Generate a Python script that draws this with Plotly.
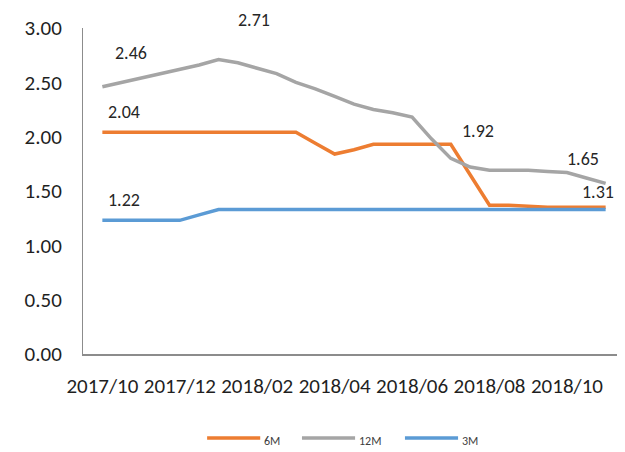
import plotly.graph_objects as go

# semi-monthly observation dates
dates = ["2017/10/01", "2017/10/16", "2017/11/01", "2017/11/16", "2017/12/01", "2017/12/16",
         "2018/01/01", "2018/01/16", "2018/02/01", "2018/02/16", "2018/03/01", "2018/03/16",
         "2018/04/01", "2018/04/16", "2018/05/01", "2018/05/16", "2018/06/01", "2018/06/16",
         "2018/07/01", "2018/07/16", "2018/08/01", "2018/08/16", "2018/09/01", "2018/09/16",
         "2018/10/01", "2018/10/16", "2018/11/01"]

rate_6m = [2.04, 2.04, 2.04, 2.04, 2.04, 2.04, 2.04, 2.04, 2.04, 2.04, 2.04, 1.94, 1.84, 1.88,
           1.93, 1.93, 1.93, 1.93, 1.93, 1.65, 1.37, 1.37, 1.36, 1.35, 1.35, 1.35, 1.35]
rate_12m = [2.46, 2.50, 2.54, 2.58, 2.62, 2.66, 2.71, 2.68, 2.63, 2.58, 2.50, 2.44, 2.37, 2.30,
            2.25, 2.22, 2.18, 1.98, 1.80, 1.72, 1.69, 1.69, 1.69, 1.68, 1.67, 1.62, 1.57]
rate_3m = [1.23, 1.23, 1.23, 1.23, 1.23, 1.28, 1.33, 1.33, 1.33, 1.33, 1.33, 1.33, 1.33, 1.33,
           1.33, 1.33, 1.33, 1.33, 1.33, 1.33, 1.33, 1.33, 1.33, 1.33, 1.33, 1.33, 1.33]

tick_dates = ["2017/10/01", "2017/12/01", "2018/02/01", "2018/04/01", "2018/06/01", "2018/08/01", "2018/10/01"]
tick_labels = ["2017/10", "2017/12", "2018/02", "2018/04", "2018/06", "2018/08", "2018/10"]

# data labels: (text, series, date)
label_texts = ["2.46", "2.71", "2.04", "1.22", "1.92", "1.65", "1.31"]
label_series = ["12M", "12M", "6M", "3M", "6M", "12M", "6M"]
label_dates = ["2017/10/01", "2018/01/01", "2017/10/01", "2017/10/01", "2018/07/01", "2018/10/01", "2018/11/01"]
label_shift = [(29, 34), (35, 40), (22, 20), (22, 20), (27, 13), (16, 14), (-8, 15)]

series_names = ["6M", "12M", "3M"]
series = {"6M": rate_6m, "12M": rate_12m, "3M": rate_3m}
colors = {"6M": "#ED7D31", "12M": "#A5A5A5", "3M": "#5B9BD5"}

FONT = "Carlito, Liberation Sans, Arial"

fig = go.Figure()
for name in series_names:
    fig.add_trace(go.Scatter(x=dates, y=series[name], mode="lines", name=name,
                             line=dict(color=colors[name], width=3.5), showlegend=False))

for t, s, d, (dx, dy) in zip(label_texts, label_series, label_dates, label_shift):
    yv = series[s][dates.index(d)]
    fig.add_annotation(x=d, y=yv, text=t, showarrow=False, xshift=dx, yshift=dy,
                       font=dict(family=FONT, size=18, color="#262626"))

# custom legend (long line keys like the original)
legend_x0 = [0.229, 0.404, 0.594]
key_len = 0.098
legend_y = -0.258
for name, x0 in zip(series_names, legend_x0):
    fig.add_shape(type="line", xref="paper", yref="paper", x0=x0, x1=x0 + key_len,
                  y0=legend_y, y1=legend_y, line=dict(color=colors[name], width=3.5))
    fig.add_annotation(xref="paper", yref="paper", x=x0 + key_len + 0.004, y=legend_y - 0.01,
                       text=name, showarrow=False, xanchor="left", yanchor="middle",
                       font=dict(family=FONT, size=12, color="#404040"))

fig.update_layout(
    width=617, height=444,
    margin=dict(l=75, r=0, t=20, b=98),
    paper_bgcolor="white", plot_bgcolor="white",
    font=dict(family=FONT, color="#262626"),
    showlegend=False,
)
fig.update_xaxes(type="category", categoryorder="array", categoryarray=dates,
                 range=[-1, 27], tickvals=tick_dates, ticktext=tick_labels,
                 showgrid=False, showline=True, linecolor="#8C8C8C", linewidth=2,
                 ticks="", tickfont=dict(size=21, color="#1F1F1F"), ticklabelstandoff=12)
fig.update_yaxes(range=[0, 3], tickvals=[0, 0.5, 1, 1.5, 2, 2.5, 3], tickformat=".2f",
                 showgrid=False, showline=True, linecolor="#8C8C8C", linewidth=1,
                 zeroline=False, ticks="", tickfont=dict(size=21, color="#1F1F1F"),
                 ticklabelstandoff=16)

fig.write_html("out.html")
